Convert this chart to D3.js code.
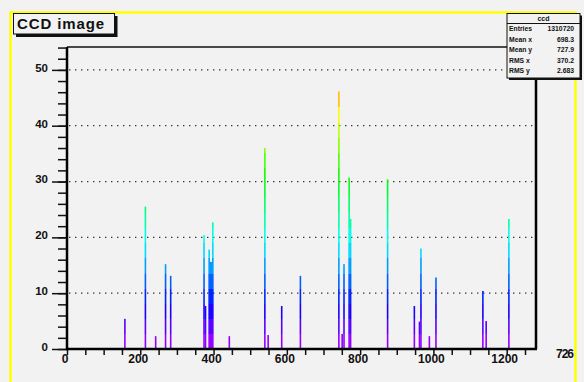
<!DOCTYPE html>
<html><head><meta charset="utf-8">
<script src="https://cdn.jsdelivr.net/npm/d3@7"></script>
<style>
body{margin:0;background:#f2f2f2}
svg{display:block}
text{font-family:"Liberation Sans",Arial,Helvetica,sans-serif;font-weight:bold;fill:#111}
</style>
</head><body>
<svg id="c" width="584" height="382"></svg>
<script>
// ---- data ----
const binCenters = [158, 214, 242, 269, 283, 374, 378, 388, 391, 394, 398, 443, 540, 549, 586, 637, 742, 751, 756, 770, 774, 875, 948, 962, 966, 989, 1007, 1135, 1144, 1206];
const binValues  = [5.4, 25.5, 2.3, 15.2, 13.1, 20.4, 7.7, 17.8, 15.6, 15.6, 22.7, 2.3, 36.0, 2.5, 7.7, 13.1, 46.1, 2.7, 15.2, 30.7, 23.3, 30.4, 7.7, 4.9, 18.0, 2.3, 12.8, 10.4, 5.0, 23.3];
const yTickValues = [0, 10, 20, 30, 40, 50];
const xTickValues = [0, 200, 400, 600, 800, 1000, 1200];
const statsLabels = ["Entries", "Mean x", "Mean y", "RMS x", "RMS y"];
const statsValues = ["1310720", "698.3", "727.9", "370.2", "2.683"];
const titleText = "CCD image";
const statsTitle = "ccd";
const xTitle = "726";
const xDomain = [0, 1280];
const yDomain = [0, 54.1];
const binWidth = 4;
const nContours = 20;

// ---- layout ----
const svg = d3.select("#c");
const W = 584, H = 382;
const L = 67, R = 536, T = 47, B = 349;
const bg = "#f2f2f2";

svg.append("rect").attr("width", W).attr("height", H).attr("fill", bg);

const x = d3.scaleLinear().domain(xDomain).range([L, R]);
const y = d3.scaleLinear().domain(yDomain).range([B, T]);

// palette gradient (banded)
const defs = svg.append("defs");
const grad = defs.append("linearGradient").attr("id", "pal")
  .attr("gradientUnits", "userSpaceOnUse")
  .attr("x1", 0).attr("x2", 0).attr("y1", y(0)).attr("y2", y(yDomain[1]));
const bw = yDomain[1] / nContours;
for (let k = 0; k < nContours; k++) {
  const mid = (k + 0.5) * bw;
  const hue = Math.max(0, 282 - 5.3 * mid);
  const col = d3.hsl(hue, 1, 0.5).formatHex();
  grad.append("stop").attr("offset", k / nContours).attr("stop-color", col);
  grad.append("stop").attr("offset", (k + 1) / nContours).attr("stop-color", col);
}

// yellow pad border
svg.append("rect").attr("x", 10.5).attr("y", 12.5).attr("width", 565).attr("height", 400)
  .attr("fill", "none").attr("stroke", "#ffff00").attr("stroke-width", 2.5);

// grid (dotted horizontal)
svg.append("g").selectAll("line").data(yTickValues.filter(d => d > 0)).join("line")
  .attr("x1", L + 2).attr("x2", R).attr("y1", d => y(d)).attr("y2", d => y(d))
  .attr("stroke", "#333").attr("stroke-width", 1.3).attr("stroke-dasharray", "1.4 4.6");

// bars
const barPx = Math.max(1.6, x(binWidth) - x(0));
svg.append("g").selectAll("rect").data(binCenters.map((c, i) => ({c, v: binValues[i]}))).join("rect")
  .attr("x", d => x(d.c) - barPx / 2)
  .attr("width", barPx)
  .attr("y", d => y(d.v))
  .attr("height", d => y(0) - y(d.v))
  .attr("fill", "url(#pal)");

// frame
svg.append("line").attr("x1", L).attr("x2", R).attr("y1", T).attr("y2", T).attr("stroke", "#111").attr("stroke-width", 1.5);
svg.append("line").attr("x1", R).attr("x2", R).attr("y1", T).attr("y2", B).attr("stroke", "#000").attr("stroke-width", 2.5);

// y axis ticks
const yMinor = d3.range(0, yDomain[1], 2);
const gyMinor = svg.append("g").attr("transform", `translate(${L},0)`)
  .call(d3.axisLeft(y).tickValues(yMinor).tickSize(9).tickFormat(""));
const gyMajor = svg.append("g").attr("transform", `translate(${L},0)`)
  .call(d3.axisLeft(y).tickValues(yTickValues).tickSize(15).tickPadding(4).tickFormat(d3.format("d")));
[gyMinor, gyMajor].forEach(g => {
  g.select(".domain").remove();
  g.selectAll(".tick line").attr("stroke", "#111").attr("stroke-width", 1.5);
});
gyMajor.selectAll(".tick text").attr("font-size", 11.5).attr("dy", "0.12em")
  .style("font-family", '"Liberation Sans",Arial,sans-serif').style("font-weight", "bold").attr("fill", "#222");

// x axis ticks
const xMinor = d3.range(0, xDomain[1], 50);
const gx = svg.append("g").attr("transform", `translate(0,${B})`)
  .call(d3.axisBottom(x).tickValues(xMinor).tickSize(6).tickFormat(""));
gx.select(".domain").remove();
gx.selectAll(".tick line").attr("stroke", "#111").attr("stroke-width", 1.5);
svg.append("g").selectAll("text").data(xTickValues).join("text")
  .attr("x", d => x(d) - 2).attr("y", 363).attr("text-anchor", "middle")
  .attr("font-size", 12).attr("fill", "#222").text(d => d);

// axis lines
svg.append("line").attr("x1", L).attr("x2", L).attr("y1", T).attr("y2", B + 1).attr("stroke", "#000").attr("stroke-width", 2.5);
svg.append("line").attr("x1", L - 1).attr("x2", R + 1).attr("y1", B).attr("y2", B).attr("stroke", "#000").attr("stroke-width", 2.3);

// x title
svg.append("text").attr("x", 573).attr("y", 358).attr("text-anchor", "end")
  .attr("font-size", 12).attr("letter-spacing", -1).attr("fill", "#111").text(xTitle);

// title box
svg.append("rect").attr("x", 16).attr("y", 16).attr("width", 101.5).attr("height", 21).attr("fill", "#111");
svg.append("rect").attr("x", 13.5).attr("y", 13.5).attr("width", 101).attr("height", 20.5).attr("fill", bg).attr("stroke", "#111").attr("stroke-width", 1);
svg.append("text").attr("x", 17).attr("y", 28.5).attr("font-size", 15).attr("letter-spacing", 0.9).attr("fill", "#111").text(titleText);

// stats box
const sx = 507, sy = 13.5, sw = 73, sh = 64.5;
svg.append("rect").attr("x", sx + 2).attr("y", sy + 2).attr("width", sw).attr("height", sh).attr("fill", "#111");
svg.append("rect").attr("x", sx).attr("y", sy).attr("width", sw).attr("height", sh).attr("fill", bg).attr("stroke", "#111").attr("stroke-width", 1);
svg.append("line").attr("x1", sx).attr("x2", sx + sw).attr("y1", 23.5).attr("y2", 23.5).attr("stroke", "#111").attr("stroke-width", 1);
svg.append("text").attr("x", sx + sw / 2).attr("y", 21).attr("text-anchor", "middle").attr("font-size", 7).text(statsTitle);
const rowY = d3.scaleLinear().domain([0, statsLabels.length - 1]).range([31, 73]);
svg.append("g").selectAll("text").data(statsLabels).join("text")
  .attr("x", sx + 2).attr("y", (d, i) => rowY(i)).attr("font-size", 6.8).text(d => d);
svg.append("g").selectAll("text").data(statsValues).join("text")
  .attr("x", 574).attr("y", (d, i) => rowY(i)).attr("text-anchor", "end").attr("font-size", 6.8).text(d => d);
</script>
</body></html>
